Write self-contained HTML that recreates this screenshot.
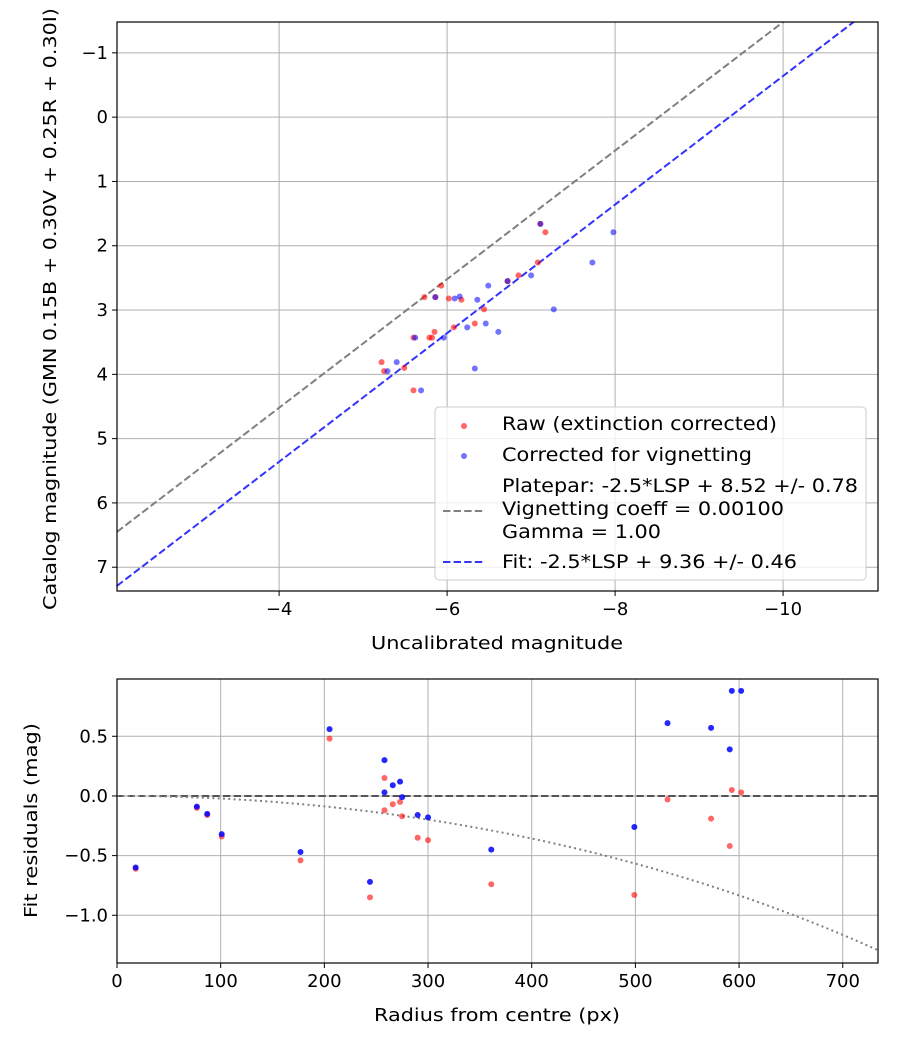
<!DOCTYPE html>
<html><head><meta charset="utf-8"><style>
body{margin:0;background:#fff;}
svg{display:block;font-family:"DejaVu Sans","Liberation Sans",sans-serif;}
</style></head><body>
<svg id="s" width="900" height="1050" viewBox="0 0 900 1050" xmlns="http://www.w3.org/2000/svg">
<rect width="900" height="1050" fill="#fff"/>
<g id="topPlot"></g>
<g id="botPlot"></g>
</svg>
<script>
// ---- top chart data ----
const rawX=[-7.17,-7.11,-7.08,-6.85,-6.72,-5.93,-5.73,-5.86,-6.02,-6.17,-6.44,-6.33,-6.08,-5.85,-5.79,-5.82,-5.60,-5.22,-5.49,-5.25,-5.60];
const rawY=[1.79,1.66,2.26,2.46,2.55,2.62,2.80,2.80,2.82,2.84,2.99,3.21,3.27,3.34,3.43,3.43,3.43,3.81,3.90,3.95,4.25];
const corX=[-7.98,-7.11,-7.73,-7.00,-6.72,-6.49,-5.86,-6.09,-6.15,-6.36,-7.27,-6.46,-6.24,-6.61,-5.96,-5.62,-5.40,-6.33,-5.29,-5.69];
const corY=[1.79,1.66,2.26,2.46,2.55,2.62,2.80,2.82,2.79,2.84,2.99,3.21,3.27,3.34,3.43,3.43,3.81,3.91,3.95,4.25];
const plateparOffset=8.52, fitOffset=9.36;
const topXTicks=[-4,-6,-8,-10];
const topYTicks=[-1,0,1,2,3,4,5,6,7];
// ---- bottom chart data ----
const radius=[18,77,87,101,177,205,244,258,258,266,273,275,290,300,361,499,531,573,591,593,602];
const resRaw=[-0.61,-0.10,-0.16,-0.34,-0.54,0.48,-0.85,0.15,-0.12,-0.07,-0.05,-0.17,-0.35,-0.37,-0.74,-0.83,-0.03,-0.19,-0.42,0.05,0.03];
const resCor=[-0.60,-0.09,-0.15,-0.32,-0.47,0.56,-0.72,0.30,0.03,0.09,0.12,-0.01,-0.16,-0.18,-0.45,-0.26,0.61,0.57,0.39,0.88,0.88];
const vignCoeff=0.001;
const botXTicks=[0,100,200,300,400,500,600,700];
const botYTicks=[0.5,0.0,-0.5,-1.0];

const NS="http://www.w3.org/2000/svg";
function mk(parent,tag,attrs,text){const e=document.createElementNS(NS,tag);for(const k in attrs)e.setAttribute(k,attrs[k]);if(text!==undefined)e.textContent=text;parent.appendChild(e);return e;}
const fmt=v=>(v<0?"\u2212":"")+Math.abs(v);
const TF=18;

// top axes
const T={l:117,r:878,t:22,b:591,x0:-2.07,x1:-11.13,y0:-1.48,y1:7.37};
const tx=v=>T.l+(v-T.x0)/(T.x1-T.x0)*(T.r-T.l);
const ty=v=>T.t+(v-T.y0)/(T.y1-T.y0)*(T.b-T.t);
const topG=document.getElementById('topPlot');
let cp=mk(topG,'clipPath',{id:'ct'});mk(cp,'rect',{x:T.l,y:T.t,width:T.r-T.l,height:T.b-T.t});
topXTicks.forEach(v=>{const x=tx(v);
 const g=mk(topG,'line',{x1:x,x2:x,y1:T.t,y2:T.b,stroke:'#b0b0b0','stroke-width':1});
 
 mk(topG,'line',{x1:x,x2:x,y1:T.b,y2:T.b+5,stroke:'#000'});
 const t=mk(topG,'text',{x:x,y:T.b+24,'font-size':TF,'text-anchor':'middle'},fmt(v));
 });
topYTicks.forEach(v=>{const y=ty(v);
 const g=mk(topG,'line',{x1:T.l,x2:T.r,y1:y,y2:y,stroke:'#b0b0b0','stroke-width':1});
 
 mk(topG,'line',{x1:T.l-5,x2:T.l,y1:y,y2:y,stroke:'#000'});
 const t=mk(topG,'text',{x:T.l-9,y:y+6,'font-size':TF,'text-anchor':'end'},fmt(v));
 });
const gl=mk(topG,'g',{'clip-path':'url(#ct)'});
[[plateparOffset,'#808080','platepar-line'],[fitOffset,'#3333ff','fit-line']].forEach(([o,c,n])=>{
 const l=mk(gl,'line',{x1:tx(T.x0),y1:ty(T.x0+o),x2:tx(T.x1),y2:ty(T.x1+o),stroke:c,'stroke-width':2,'stroke-dasharray':'7.4,3.2'});
 });
rawX.forEach((v,i)=>{const c=mk(gl,'circle',{cx:tx(v),cy:ty(rawY[i]),r:3,fill:'#ff0000','fill-opacity':0.6});
 });
corX.forEach((v,i)=>{const c=mk(gl,'circle',{cx:tx(v),cy:ty(corY[i]),r:3,fill:'#0000ff','fill-opacity':0.55});
 });
mk(topG,'rect',{x:T.l,y:T.t,width:T.r-T.l,height:T.b-T.t,fill:'none',stroke:'#000','stroke-width':1.2});
let a=mk(topG,'text',{x:371,y:649,'font-size':18,textLength:252,lengthAdjust:'spacingAndGlyphs'},'Uncalibrated magnitude');

a=mk(topG,'text',{x:0,y:0,'font-size':18,textLength:602,lengthAdjust:'spacingAndGlyphs',transform:'translate(56,610) rotate(-90)'},'Catalog magnitude (GMN 0.15B + 0.30V + 0.25R + 0.30I)');

// legend
const lg=mk(topG,'g',{});
mk(lg,'rect',{x:435,y:407,width:431,height:173,rx:4,fill:'#fff','fill-opacity':0.8,stroke:'#ccc'});
mk(lg,'circle',{cx:464,cy:426,r:3,fill:'#ff0000','fill-opacity':0.6});
mk(lg,'circle',{cx:464,cy:456,r:3,fill:'#0000ff','fill-opacity':0.55});
mk(lg,'line',{x1:443,x2:485,y1:511,y2:511,stroke:'#808080','stroke-width':2,'stroke-dasharray':'7.4,3.2'});
mk(lg,'line',{x1:443,x2:485,y1:562,y2:562,stroke:'#3333ff','stroke-width':2,'stroke-dasharray':'7.4,3.2'});
[['Raw (extinction corrected)',430,275],['Corrected for vignetting',461,250],['Platepar: -2.5*LSP + 8.52 +/- 0.78',492,356],['Vignetting coeff = 0.00100',515,282],['Gamma = 1.00',538,159],['Fit: -2.5*LSP + 9.36 +/- 0.46',568,295]].forEach(([s,y,w])=>{
 const t=mk(lg,'text',{x:502,y:y,'font-size':19,textLength:w,lengthAdjust:'spacingAndGlyphs'},s);});

// bottom axes
const B={l:117,r:878,t:679,b:963,x0:0,x1:734,y0:0.98,y1:-1.40};
const bx=v=>B.l+(v-B.x0)/(B.x1-B.x0)*(B.r-B.l);
const by=v=>B.t+(v-B.y0)/(B.y1-B.y0)*(B.b-B.t);
const botG=document.getElementById('botPlot');
cp=mk(botG,'clipPath',{id:'cb'});mk(cp,'rect',{x:B.l,y:B.t,width:B.r-B.l,height:B.b-B.t});
botXTicks.forEach(v=>{const x=bx(v);
 const g=mk(botG,'line',{x1:x,x2:x,y1:B.t,y2:B.b,stroke:'#b0b0b0'});
 
 mk(botG,'line',{x1:x,x2:x,y1:B.b,y2:B.b+5,stroke:'#000'});
 const t=mk(botG,'text',{x:x,y:B.b+24,'font-size':TF,'text-anchor':'middle'},String(v));
 });
botYTicks.forEach(v=>{const y=by(v);
 const g=mk(botG,'line',{x1:B.l,x2:B.r,y1:y,y2:y,stroke:'#b0b0b0'});
 
 mk(botG,'line',{x1:B.l-5,x2:B.l,y1:y,y2:y,stroke:'#000'});
 const t=mk(botG,'text',{x:B.l-9,y:y+6,'font-size':TF,'text-anchor':'end'},(v<0?"\u2212":"")+Math.abs(v).toFixed(1));
 });
const gb=mk(botG,'g',{'clip-path':'url(#cb)'});
let zl=mk(gb,'line',{x1:B.l,x2:B.r,y1:by(0),y2:by(0),stroke:'#555','stroke-width':2,'stroke-dasharray':'7.4,3.2'});

let pts=[];for(let r=0;r<=740;r+=5){const c=Math.cos(vignCoeff*r);pts.push(bx(r)+','+by(2.5*4*Math.log10(c)));}
let vl=mk(gb,'polyline',{points:pts.join(' '),fill:'none',stroke:'#808080','stroke-width':2,'stroke-dasharray':'2,3.3'});

radius.forEach((r,i)=>{let c=mk(gb,'circle',{cx:bx(r),cy:by(resRaw[i]),r:3,fill:'#ff0000','fill-opacity':0.6});
 
 c=mk(gb,'circle',{cx:bx(r),cy:by(resCor[i]),r:3,fill:'#0000ff','fill-opacity':0.85});
 });
mk(botG,'rect',{x:B.l,y:B.t,width:B.r-B.l,height:B.b-B.t,fill:'none',stroke:'#000','stroke-width':1.2});
a=mk(botG,'text',{x:374,y:1021,'font-size':18,textLength:246,lengthAdjust:'spacingAndGlyphs'},'Radius from centre (px)');

a=mk(botG,'text',{x:0,y:0,'font-size':18,textLength:195,lengthAdjust:'spacingAndGlyphs',transform:'translate(37,918) rotate(-90)'},'Fit residuals (mag)');

</script>
</body></html>
